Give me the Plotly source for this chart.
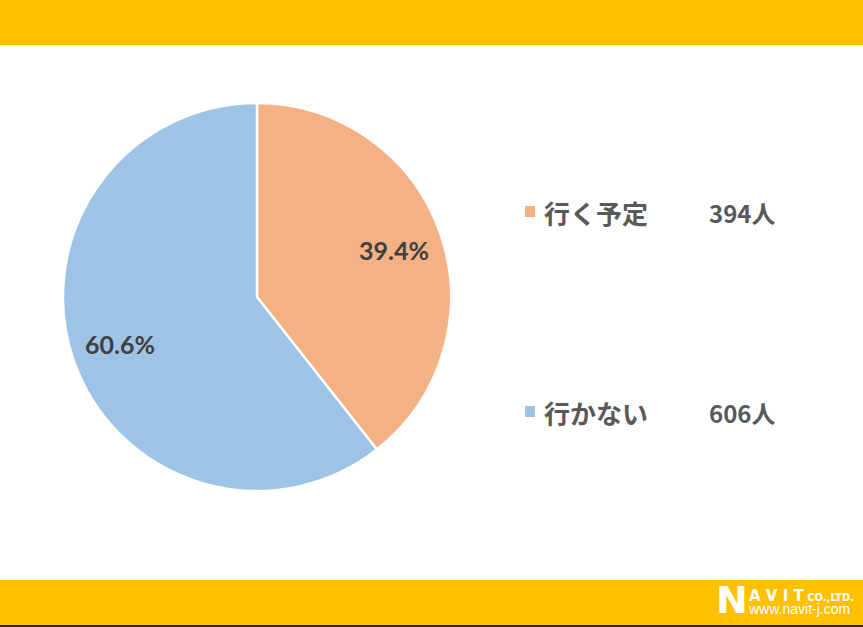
import math
import plotly.graph_objects as go

categories = ["行く予定", "行かない"]
counts = [394, 606]
unit = "人"
colors = ["#F4B183", "#9DC3E6"]

W, H = 863, 627
CX, CY, R = 257, 297, 194

fig = go.Figure()
fig.add_trace(go.Pie(
    labels=categories, values=counts, sort=False, direction="clockwise", rotation=0,
    marker=dict(colors=colors, line=dict(color="white", width=2.5)),
    textinfo="none",
    showlegend=False, hoverinfo="label+value+percent",
    domain=dict(x=[(CX-R)/W, (CX+R)/W], y=[(H-CY-R)/H, (H-CY+R)/H]),
))

shapes = [
    dict(type="rect", xref="paper", yref="paper", x0=0, x1=1, y0=1-45/H, y1=1, fillcolor="#FFC000", line_width=0, layer="below"),
    dict(type="rect", xref="paper", yref="paper", x0=0, x1=1, y0=2/H, y1=1-580/H, fillcolor="#FFC000", line_width=0, layer="below"),
    dict(type="rect", xref="paper", yref="paper", x0=0, x1=1, y0=0, y1=2/H, fillcolor="#2b2211", line_width=0, layer="below"),
]
annotations = []

# percentage labels placed at each slice's mid-angle
total = sum(counts)
cum = 0
for cnt in counts:
    mid = (cum + cnt / 2) / total * 2 * math.pi
    cum += cnt
    px = CX + 0.745 * R * math.sin(mid)
    py = CY - 0.745 * R * math.cos(mid)
    annotations.append(dict(x=px/W, y=1-py/H, xref="paper", yref="paper",
                            text=f"{cnt/total*100:.1f}%", showarrow=False,
                            xanchor="center", yanchor="middle",
                            font=dict(family="Lato", size=25, color="#404040", weight="bold")))

legend_y = [212, 412]
for i, (cat, cnt, col) in enumerate(zip(categories, counts, colors)):
    yc = legend_y[i]
    shapes.append(dict(type="rect", xref="paper", yref="paper", x0=525/W, x1=535/W,
                       y0=1-(yc+5)/H, y1=1-(yc-6)/H, fillcolor=col, line_width=0))
    annotations.append(dict(x=542/W, y=1-yc/H, xref="paper", yref="paper", text=cat, showarrow=False,
                            xanchor="left", yanchor="middle",
                            font=dict(family="Noto Sans CJK JP", size=26, color="#595959", weight="bold")))
    annotations.append(dict(x=707/W, y=1-yc/H, xref="paper", yref="paper", text=f"{cnt}{unit}", showarrow=False,
                            xanchor="left", yanchor="middle",
                            font=dict(family="Noto Sans CJK JP", size=24, color="#595959", weight="bold")))

# logo
logo_text = ("<span style='font-size:15px;font-weight:bold'>A V I T</span>"
             "<span style='font-size:10px;font-weight:bold'> CO.,LTD.</span><br>"
             "<span style='font-size:14px;font-family:Liberation Sans'>www.navit-j.com</span>")
annotations += [
    dict(x=714/W, y=1-600/H, xref="paper", yref="paper", text="N", showarrow=False, xanchor="left", yanchor="middle",
         font=dict(family="DejaVu Sans", size=38, color="white", weight="bold")),
    dict(x=747/W, y=1-602/H, xref="paper", yref="paper", text=logo_text, showarrow=False,
         xanchor="left", yanchor="middle", align="left", borderpad=0,
         font=dict(family="DejaVu Sans", size=10, color="white")),
]

fig.update_layout(
    width=W, height=H, margin=dict(l=0, r=0, t=0, b=0),
    paper_bgcolor="white", plot_bgcolor="white",
    shapes=shapes, annotations=annotations, showlegend=False,
)
fig.write_html("out.html", config={"displayModeBar": False},
               post_script="document.body.style.margin='0';document.body.style.overflow='hidden';")
